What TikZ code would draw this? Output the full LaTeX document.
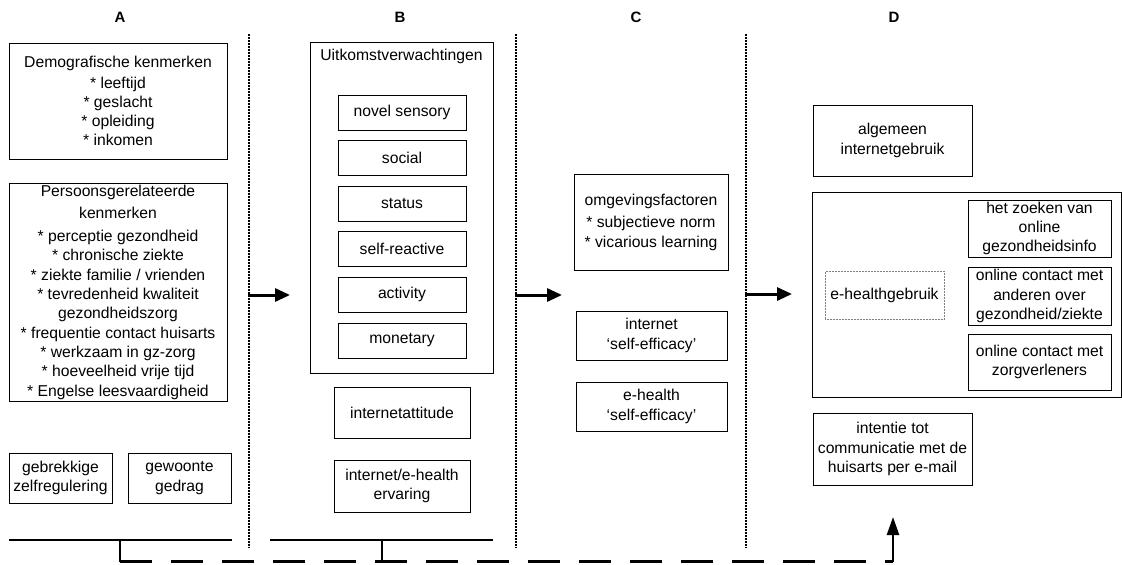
\documentclass[tikz,border=0pt]{standalone}
\usepackage{fontspec}
\setmainfont{Liberation Sans}
\usetikzlibrary{arrows.meta}
\begin{document}
\begin{tikzpicture}[x=1pt,y=-1pt,
  every node/.style={inner sep=0pt,outer sep=0pt},
  txt/.style={font=\fontsize{15.7}{19.3}\selectfont,align=center},
  box/.style={txt,draw,line width=0.8pt},
  hdr/.style={font=\fontsize{15}{17}\selectfont\bfseries},
  sep/.style={line width=1.6pt,dash pattern=on 1.6pt off 1.4pt},
  flow/.style={line width=3pt,-{Triangle[length=15pt,width=13pt]}},
  thick line/.style={line width=2.5pt},
  dashline/.style={line width=2.5pt,dash pattern=on 32pt off 19pt}]
\useasboundingbox (0,0) rectangle (1122,565);
% headers
\node[hdr] (hA) at (120,17) {A};
\node[hdr] (hB) at (400,17) {B};
\node[hdr] (hC) at (636,17) {C};
\node[hdr] (hD) at (894,17) {D};
% separators
\coordinate (d1t) at (249,34); \coordinate (d1b) at (249,548);
\coordinate (d2t) at (516,34); \coordinate (d2b) at (516,548);
\coordinate (d3t) at (746,34); \coordinate (d3b) at (746,548);
\draw[sep] (d1t) -- (d1b);
\draw[sep] (d2t) -- (d2b);
\draw[sep] (d3t) -- (d3b);
% column A
\node[box,minimum width=218pt,minimum height=116pt] (demo) at (118,101)
 {Demografische kenmerken\\[1.5pt] * leeftijd\\ * geslacht\\ * opleiding\\ * inkomen};
\node[box,minimum width=218pt,minimum height=218pt] (pers) at (118,292)
 {Persoonsgerelateerde\\[3.5pt] kenmerken\\[3.5pt] * perceptie gezondheid\\ * chronische ziekte\\
  * ziekte familie / vrienden\\ * tevredenheid kwaliteit\\ gezondheidszorg\\
  * frequentie contact huisarts\\ * werkzaam in gz-zorg\\ * hoeveelheid vrije tijd\\
  * Engelse leesvaardigheid};
\node[box,minimum width=103pt,minimum height=50pt] (gebr) at (60.5,478) {gebrekkige\\zelfregulering};
\node[box,minimum width=103pt,minimum height=50pt] (gewo) at (179.5,478) {gewoonte\\gedrag};
% column B
\node[box,minimum width=183pt,minimum height=331pt] (uitk) at (401.5,207.5) {};
\node[txt] (uitkt) at (401.5,56) {Uitkomstverwachtingen};
\node[box,minimum width=128pt,minimum height=35pt] (b1) at (402,112.5) {novel sensory};
\node[box,minimum width=128pt,minimum height=35pt] (b2) at (402,158.1) {social};
\node[box,minimum width=128pt,minimum height=35pt] (b3) at (402,203.7) {status};
\node[box,minimum width=128pt,minimum height=35pt] (b4) at (402,249.3) {self-reactive};
\node[box,minimum width=128pt,minimum height=35pt] (b5) at (402,294.9) {activity};
\node[box,minimum width=128pt,minimum height=35pt] (b6) at (402,340.5) {monetary};
\node[box,minimum width=136pt,minimum height=51pt] (iatt) at (402,412.5) {internetattitude};
\node[box,minimum width=136pt,minimum height=52pt] (ierv) at (402,486) {internet/e-health\\ervaring};
% column C
\node[box,minimum width=154pt,minimum height=96pt] (omg) at (651,222)
 {omgevingsfactoren\\[3.5pt] * subjectieve norm\\ * vicarious learning};
\node[box,minimum width=151pt,minimum height=49pt] (inet) at (651.5,335.5) {internet\\‘self-efficacy’};
\node[box,minimum width=151pt,minimum height=49pt] (ehse) at (651.5,406.5) {e-health\\‘self-efficacy’};
% column D
\node[box,minimum width=159pt,minimum height=71pt] (alg) at (892.5,140.5) {algemeen\\internetgebruik};
\node[box,minimum width=309pt,minimum height=205pt] (ehbig) at (966.5,294.5) {};
\node[txt,draw=gray,line width=0.5pt,densely dotted,minimum width=119pt,minimum height=48pt] (ehg) at (884.5,295) {e-healthgebruik};
\node[box,minimum width=143pt,minimum height=57pt] (s1) at (1039.5,228.5) {het zoeken van\\online\\gezondheidsinfo};
\node[box,minimum width=143pt,minimum height=58pt] (s2) at (1039.5,296) {online contact met\\anderen over\\gezondheid/ziekte};
\node[box,minimum width=143pt,minimum height=56pt] (s3) at (1039.5,362) {online contact met\\zorgverleners};
\node[box,minimum width=159pt,minimum height=72pt] (int) at (892.5,449) {intentie tot\\communicatie met de\\huisarts per e-mail};
% arrows between columns
\coordinate (a1s) at (248,295); \coordinate (a1e) at (290,295);
\coordinate (a2s) at (515,295); \coordinate (a2e) at (562,295);
\coordinate (a3s) at (745,294); \coordinate (a3e) at (792,294);
\draw[flow] (a1s) -- (a1e);
\draw[flow] (a2s) -- (a2e);
\draw[flow] (a3s) -- (a3e);
% bottom brackets and feedback
\coordinate (l1a) at (9,540); \coordinate (l1b) at (232,540);
\coordinate (l2a) at (270,540); \coordinate (l2b) at (493,540);
\coordinate (k1) at (120,540); \coordinate (k1b) at (120,561.5);
\coordinate (k2) at (382,540); \coordinate (k2b) at (382,561.5);
\coordinate (cr) at (893,561.5); \coordinate (tp) at (893,517);
\draw[thick line] (l1a) -- (l1b);
\draw[thick line] (l2a) -- (l2b);
\draw[thick line] (k1) -- (k1b);
\draw[thick line] (k2) -- (k2b);
\draw[dashline] (k1b) -- (cr);
\draw[line width=2.5pt,-{Triangle[length=18pt,width=12pt]}] (cr) -- (tp);
\end{tikzpicture}
\end{document}
